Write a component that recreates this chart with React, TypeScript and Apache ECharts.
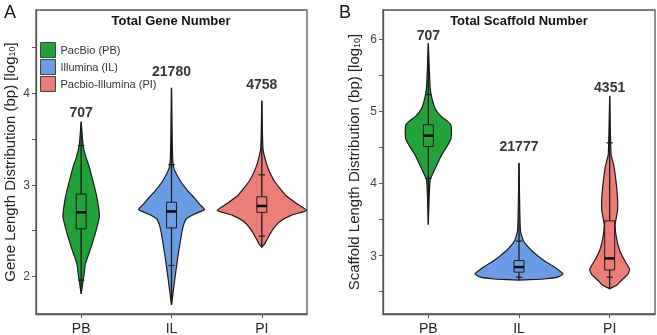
import React, { useEffect, useRef } from "react";
import * as echarts from "echarts";

const FONT = '"Liberation Sans", Arial, Helvetica, sans-serif';

const categories = ["PB", "IL", "PI"];
const legendNames = ["PacBio (PB)", "Illumina (IL)", "Pacbio-Illumina (PI)"];
const colors = ["#22a23a", "#6b9de6", "#ec7d77"];

// Panel A: gene length (log10 bp). Profiles: [value, relative half-width]
const genePB = [[1.81, 0], [1.92, 0.033], [2.03, 0.066], [2.14, 0.095], [2.32, 0.22], [2.5, 0.33], [2.66, 0.405], [2.86, 0.35], [3.0, 0.283], [3.21, 0.17], [3.32, 0.095], [3.43, 0.044], [3.55, 0.022], [3.69, 0]];
const geneIL = [[1.69, 0], [1.88, 0.05], [2.07, 0.1], [2.21, 0.14], [2.43, 0.21], [2.55, 0.26], [2.63, 0.33], [2.68, 0.5], [2.73, 0.73], [2.78, 0.64], [2.86, 0.5], [2.93, 0.37], [3.04, 0.2], [3.18, 0.055], [3.3, 0.025], [3.6, 0.012], [4.06, 0]];
const genePI = [[2.32, 0], [2.35, 0.055], [2.4, 0.11], [2.46, 0.177], [2.53, 0.27], [2.6, 0.4], [2.67, 0.66], [2.72, 0.99], [2.8, 0.76], [2.89, 0.52], [3.04, 0.28], [3.18, 0.14], [3.29, 0.07], [3.4, 0.025], [3.6, 0.012], [3.92, 0]];
// box stats: [lowerWhisker, q1, median, q3, upperWhisker]
const geneBox = [
  [1.96, 2.52, 2.7, 2.9, 3.43],
  [2.12, 2.53, 2.71, 2.81, 3.22],
  [2.44, 2.7, 2.77, 2.87, 3.11],
];
const geneCounts = [707, 21780, 4758];
const geneCountY = [3.8, 4.24, 4.1];
const geneTickLabels = [2, 3, 4];
const geneTicks = [2, 2.5, 3, 3.5, 4, 4.5];

// Panel B: scaffold length (log10 bp)
const scafPB = [[3.43, 0], [3.8, 0.018], [4.05, 0.04], [4.11, 0.082], [4.25, 0.184], [4.39, 0.29], [4.52, 0.42], [4.62, 0.5], [4.72, 0.51], [4.8, 0.5], [4.85, 0.44], [4.93, 0.277], [5.03, 0.155], [5.17, 0.082], [5.3, 0.044], [5.5, 0.027], [5.94, 0]];
const scafIL = [[2.66, 0], [2.665, 0.25], [2.675, 0.55], [2.7, 0.85], [2.745, 0.97], [2.84, 0.78], [2.93, 0.55], [3.07, 0.277], [3.2, 0.1], [3.34, 0.033], [3.6, 0.018], [4.28, 0]];
const scafPI = [[2.54, 0], [2.6, 0.177], [2.65, 0.25], [2.74, 0.4], [2.81, 0.44], [2.93, 0.33], [3.07, 0.22], [3.25, 0.148], [3.43, 0.12], [3.62, 0.173], [3.8, 0.173], [4.03, 0.14], [4.25, 0.09], [4.39, 0.033], [4.6, 0.02], [5.21, 0]];
const scafBox = [
  [4.07, 4.51, 4.66, 4.81, 5.23],
  [2.7, 2.77, 2.84, 2.93, 3.2],
  [2.7, 2.8, 2.96, 3.48, 4.56],
];
const scafCounts = [707, 21777, 4351];
const scafCountY = [6.06, 4.51, 5.33];
const scafTickLabels = [3, 4, 5, 6];
const scafTicks = [2.5, 3, 3.5, 4, 4.5, 5, 5.5, 6];

const OUTLINE = "#1a1a1a";

function makeRender(profile: number[][], box: number[], color: string) {
  return (params: any, api: any) => {
    const cat = api.value(0);
    const half = api.size([1, 0])[0] / 2;
    const cx = api.coord([cat, box[2]])[0];
    const right: number[][] = [];
    const left: number[][] = [];
    profile.forEach(([v, d]) => {
      const y = api.coord([cat, v])[1];
      right.push([cx + d * half, y]);
      left.push([cx - d * half, y]);
    });
    const pts = right.concat(left.reverse());
    const yMin = api.coord([cat, profile[0][0]])[1];
    const yMax = api.coord([cat, profile[profile.length - 1][0]])[1];
    const [lw, q1, med, q3, uw] = box.map((v) => api.coord([cat, v])[1]);
    const bw = half * 0.11;
    const cw = half * 0.07;
    return {
      type: "group",
      children: [
        { type: "polygon", shape: { points: pts, smooth: 0.15 }, style: { fill: color, stroke: OUTLINE, lineWidth: 1.2 } },
        { type: "line", shape: { x1: cx, y1: yMin, x2: cx, y2: yMax }, style: { stroke: OUTLINE, lineWidth: 1.3 } },
        { type: "line", shape: { x1: cx - cw, y1: lw, x2: cx + cw, y2: lw }, style: { stroke: OUTLINE, lineWidth: 1.2 } },
        { type: "line", shape: { x1: cx - cw, y1: uw, x2: cx + cw, y2: uw }, style: { stroke: OUTLINE, lineWidth: 1.2 } },
        { type: "rect", shape: { x: cx - bw, y: q3, width: 2 * bw, height: q1 - q3 }, style: { fill: color, stroke: OUTLINE, lineWidth: 1 } },
        { type: "line", shape: { x1: cx - bw, y1: med, x2: cx + bw, y2: med }, style: { stroke: "#000", lineWidth: 2.5 } },
      ],
    };
  };
}

export default function App() {
  const ref = useRef<HTMLDivElement>(null);
  useEffect(() => {
    if (!ref.current) return;
    const chart = echarts.init(ref.current, undefined, { renderer: "svg" });
    const profiles = [
      [genePB, geneIL, genePI],
      [scafPB, scafIL, scafPI],
    ];
    const boxes = [geneBox, scafBox];
    const series: any[] = [];
    for (let p = 0; p < 2; p++) {
      for (let c = 0; c < 3; c++) {
        series.push({
          type: "custom",
          name: legendNames[c],
          xAxisIndex: p,
          yAxisIndex: p,
          data: [[c]],
          renderItem: makeRender(profiles[p][c], boxes[p][c], colors[c]),
          itemStyle: { color: colors[c] },
          silent: true,
          z: 2,
        });
      }
    }
    const countSets = [
      [geneCounts, geneCountY],
      [scafCounts, scafCountY],
    ];
    countSets.forEach(([counts, ys], p) => {
      series.push({
        type: "scatter",
        xAxisIndex: p,
        yAxisIndex: p,
        symbolSize: 0,
        silent: true,
        z: 5,
        data: counts.map((n, i) => [i, ys[i], n]),
        label: {
          show: true,
          position: "inside",
          formatter: (prm: any) => String(prm.value[2]),
          fontSize: 14,
          fontWeight: "bold",
          color: "#000",
          fontFamily: FONT,
        },
      });
    });

    const yCommon = (min: number, max: number, ticks: number[], labels: number[], name: string, gap: number, idx: number) => ({
      type: "value",
      gridIndex: idx,
      min,
      max,
      splitLine: { show: false },
      axisLine: { show: true, lineStyle: { color: "#555", width: 1.3 } },
      axisTick: { show: true, length: 4, customValues: ticks, lineStyle: { color: "#555" } },
      axisLabel: { customValues: labels, fontSize: 12, color: "#444", margin: 6, fontFamily: FONT },
      name,
      nameLocation: "middle",
      nameGap: gap,
      nameTextStyle: {
        fontSize: 15,
        color: "#222",
        fontFamily: FONT,
        rich: { sub: { fontSize: 9, color: "#222", fontFamily: FONT, verticalAlign: "bottom", lineHeight: 14 } },
      },
    });
    const xCommon = (idx: number) => ({
      type: "category",
      gridIndex: idx,
      data: categories,
      axisLine: { show: true, lineStyle: { color: "#555", width: 1.3 } },
      axisTick: { show: true, alignWithLabel: true, length: 4, lineStyle: { color: "#555" } },
      axisLabel: { fontSize: 14, color: "#222", margin: 7, fontFamily: FONT },
    });

    chart.setOption({
      animation: false,
      textStyle: { fontFamily: FONT },
      title: [
        { text: "Total Gene Number", left: 171, top: 14, textAlign: "center", padding: 0, textStyle: { fontSize: 13, fontWeight: "bold", color: "#111", fontFamily: FONT } },
        { text: "Total Scaffold Number", left: 519, top: 14, textAlign: "center", padding: 0, textStyle: { fontSize: 13, fontWeight: "bold", color: "#111", fontFamily: FONT } },
      ],
      legend: {
        data: legendNames,
        orient: "vertical",
        left: 40,
        top: 42,
        padding: 0,
        itemWidth: 15,
        itemHeight: 15,
        itemGap: 1,
        icon: "rect",
        selectedMode: false,
        itemStyle: { borderColor: "#444", borderWidth: 1 },
        textStyle: { fontSize: 11, color: "#333", fontFamily: FONT },
      },
      grid: [
        { left: 36, top: 10, width: 271, height: 307, show: true, borderColor: "#555", borderWidth: 1.3 },
        { left: 383, top: 10, width: 272, height: 307, show: true, borderColor: "#555", borderWidth: 1.3 },
      ],
      xAxis: [xCommon(0), xCommon(1)],
      yAxis: [
        yCommon(1.59, 4.91, geneTicks, geneTickLabels, "Gene Length Distribution (bp) [log{sub|10}]", 19.5, 0),
        yCommon(2.19, 6.4, scafTicks, scafTickLabels, "Scaffold Length Distribution (bp) [log{sub|10}]", 22, 1),
      ],
      graphic: [
        { type: "text", left: 4, top: 3, style: { text: "A", fontSize: 18, fill: "#111", fontFamily: FONT } },
        { type: "text", left: 339, top: 3, style: { text: "B", fontSize: 18, fill: "#111", fontFamily: FONT } },
      ],
      series,
    });
    return () => chart.dispose();
  }, []);
  return <div ref={ref} style={{ position: "fixed", left: 0, top: 0, width: 657, height: 335 }} />;
}
